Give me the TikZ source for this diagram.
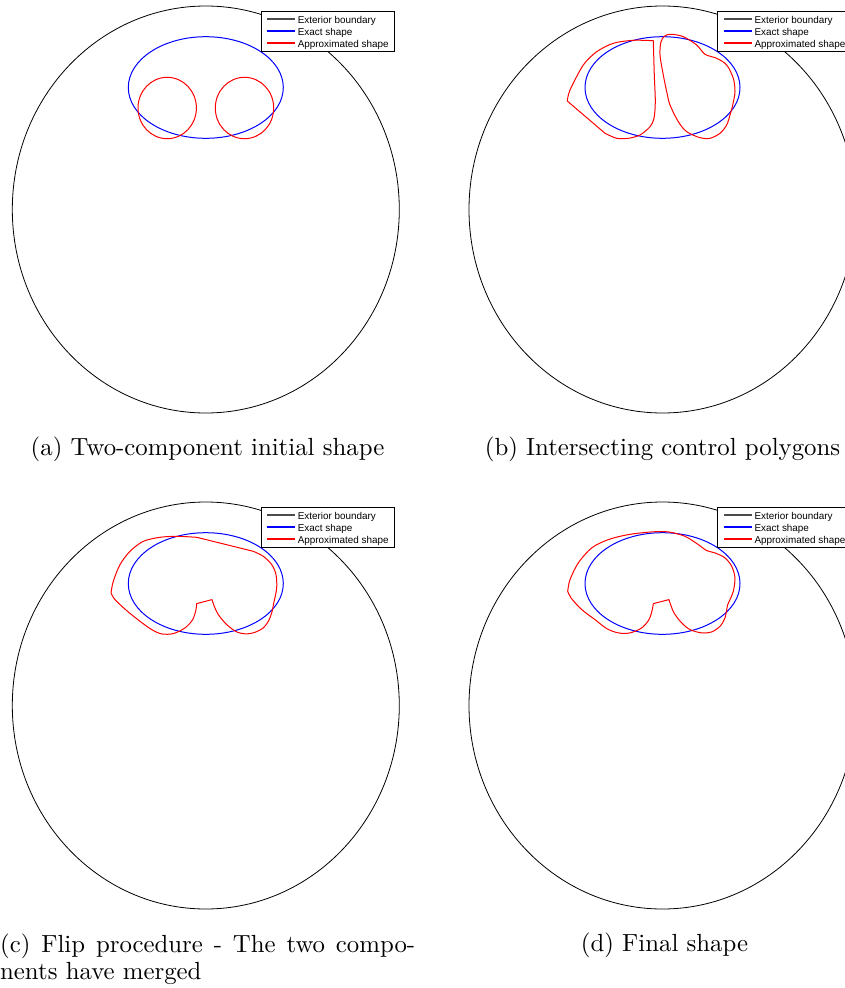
\documentclass[tikz,border=0pt]{standalone}
\usepackage{fontspec}
\newfontfamily\legfont{Liberation Sans}
\newfontfamily\capfont{lmroman10-regular.otf}
\definecolor{legblue}{rgb}{0,0,1}
\definecolor{legred}{rgb}{1,0,0}
\tikzset{
  ext/.style={draw=black, line width=0.8pt},
  exact/.style={draw=blue, line width=1pt},
  approx/.style={draw=red, line width=1pt, line join=round},
  legbox/.style={draw=black, fill=white, line width=0.9pt},
  legline/.style={line width=1.8pt},
  legtext/.style={anchor=base west, inner sep=0pt, font=\legfont\fontsize{9.9}{11}\selectfont},
  captext/.style={anchor=base, inner sep=0pt, font=\capfont\fontsize{24.8}{30}\selectfont},
}
\newcommand\drawpanelbase{%
  \draw[ext] (205.8,209.5) ellipse [x radius=193.5pt, y radius=203.5pt];
  \draw[exact] (205.8,87.5) ellipse [x radius=77.5pt, y radius=50.8pt];
}
\newcommand\drawlegend[1]{%
  \draw[legbox] (261,11.3) rectangle (394.7,51);
  \draw[legline, line width=1.4pt, color=black!70] (267,19) -- (295,19);
  \draw[legline, color=legblue] (267,31) -- (295,31);
  \draw[legline, color=legred] (267,43) -- (295,43);
  \node[legtext] (lext#1) at (297.6,23.3) {Exterior boundary};
  \node[legtext] (lexa#1) at (297.6,35.5) {Exact shape};
  \node[legtext] (lapp#1) at (297.6,47.7) {Approximated shape};
}
\begin{document}
\begin{tikzpicture}[x=1pt,y=-1pt]
\useasboundingbox (0,0) rectangle (845,988);
\clip (0,0) rectangle (845,988);
\fill[white] (0,0) rectangle (845,988);

% ---------- (a)
\begin{scope}
  \drawpanelbase
  \draw[approx] (167.2,108) ellipse [x radius=29.2pt, y radius=30.7pt];
  \draw[approx] (244.5,108) ellipse [x radius=29.2pt, y radius=30.7pt];
  \drawlegend{a}
\end{scope}
\node[captext] (capa) at (207.5,455) {(a) Two-component initial shape};

% ---------- (b)
\begin{scope}[shift={(456.7,0)}]
  \drawpanelbase
  \draw[approx] plot[smooth] coordinates {(196.6,40.7) (197.6,75) (198.6,101.7) (197.3,118.3) (193.3,126.7) (183.3,135) (171.6,138.3) (160,138.3) (148.3,133.3)}
     -- (110.6,101)
     -- plot[smooth] coordinates {(110.6,101) (113.3,90) (126.6,65) (140,51.7) (156.6,43.3) (176.6,40.3) (196.6,40.7)} -- cycle;
  \draw[approx] plot[smooth cycle] coordinates {(215,34.3) (226.6,36.7) (240,45) (248.3,54.3) (260,58.3) (270,65) (276.6,78.3) (278.3,91.7) (276,105) (273.3,115) (270,125) (263.3,133.3) (253.3,138.3) (243.3,137.7) (230,131.7) (221.6,121.7) (213.3,105) (210,91.7) (206.6,75) (203.3,55) (204.3,41.7) (208.3,35.7)};
  \drawlegend{b}
\end{scope}
\node[captext] (capb) at (662.5,455) {(b) Intersecting control polygons};

% ---------- (c)
\begin{scope}[shift={(0,496)}]
  \drawpanelbase
  \draw[approx] plot[smooth] coordinates {(196.7,107.6) (196,113.6) (192.7,123.6) (185,131.9) (173.3,137.6) (161.7,137.9) (151.7,133.6) (140,125.3) (126.7,114.6) (115,103.6) (111,96.9)}
     -- plot[smooth] coordinates {(111,96.9) (113.3,85.3) (120,68.6) (130,55.3) (143.3,45.3) (160,41.3) (176.7,40.3) (196.7,41.3)}
     -- plot[smooth] coordinates {(253.3,55.3) (263.3,60.3) (271.7,68.6) (276,78.6) (276.7,91.9) (274,105.9) (271.7,116.9) (268.3,125.3) (263.3,131.9) (255,136.3) (246.7,137.9) (236.7,135.9) (226.7,128.6) (218.3,118.6) (214.3,110.3) (212,103.6)}
     -- cycle;
  \drawlegend{c}
\end{scope}
\node[captext, anchor=base west] (capc1) at (0,952) {\hbox to 415pt{(c) Flip procedure - The two compo-}};
\node[captext, anchor=base west] (capc2) at (0,979) {nents have merged};

% ---------- (d)
\begin{scope}[shift={(456.7,496)}]
  \drawpanelbase
  \draw[approx] plot[smooth] coordinates {(196.6,107.6) (195.6,113.6) (192.3,123.6) (185,131.9) (173.3,136.9) (161.6,136.9) (150,132.6) (138.3,123.6) (125,113.6) (114.3,101.9) (111,95.3)}
     -- plot[smooth] coordinates {(111,95.3) (113.3,83.6) (121.6,66.9) (135,51.9) (151.6,43.6) (171.6,38.6) (195,35.9) (211.6,35.9) (228.3,40.3) (241.6,48.6) (250,54.6) (258.3,56.9) (268.3,61.9) (275,70.3) (278.3,81.9) (276.6,95.3) (273.3,103.6) (271,108.6) (268.3,121.9) (263.3,130.3) (255,135.9) (245,136.9) (233.3,133.6) (225,126.9) (217.3,116.9) (213.3,106.9) (212.3,103.6)}
     -- cycle;
  \drawlegend{d}
\end{scope}
\node[captext] (capd) at (664.5,951.5) {(d) Final shape};
\end{tikzpicture}
\end{document}
